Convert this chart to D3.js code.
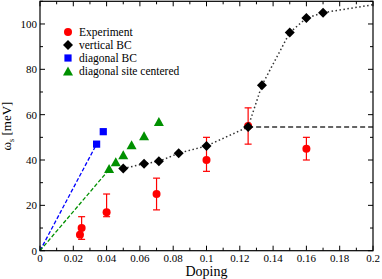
<!DOCTYPE html>
<html lang="en">
<head>
<meta charset="UTF-8">
<title>omega_s vs doping</title>
<script src="https://cdn.jsdelivr.net/npm/d3@7"></script>
<style>
    body { margin: 0; background: #fff; }
    svg { display: block; }
    svg text { font-family: "Liberation Serif", "Times New Roman", serif; }
</style>
</head>
<body>
<svg id="chart" width="382" height="279"></svg>
<script>
    // data
    const expX   = [0.024, 0.025, 0.04, 0.07, 0.1, 0.125, 0.16];
    const expY   = [7, 10, 17, 25, 40, 55, 45];
    const expLo  = [null, 5, 15, 18, 35, 47, 40];
    const expHi  = [null, 15, 25, 32, 50, 63, 50];

    const vertX  = [0.05, 0.0625, 0.0714, 0.0833, 0.1, 0.125, 0.1333, 0.15, 0.16, 0.17];
    const vertY  = [36.2, 38.4, 39.4, 43, 46.2, 54.6, 73, 96.2, 102.6, 105];
    const vertTailX = 0.2, vertTailY = 108.5;

    const diagX  = [0.034, 0.038];
    const diagY  = [47, 52.5];

    const siteX  = [0.0415, 0.0455, 0.05, 0.055, 0.0625, 0.0714];
    const siteY  = [35.8, 38.8, 41.9, 46.3, 50.3, 56.5];

    const plateauY = 54.6;

    const legendNames = ["Experiment", "vertical BC", "diagonal BC", "diagonal site centered"];

    const svg = d3.select("#chart");
    const mLeft = 40, mRight = 373, mTop = 1.3, mBottom = 250.7;

    const x = d3.scaleLinear().domain([0, 0.2]).range([mLeft, mRight]);
    const y = d3.scaleLinear().domain([0, 110]).range([mBottom, mTop]);

    const red = "#ff0000", blue = "#0000ff", green = "#009000";

    // ticks, inward on all four sides
    const ticks = svg.append("g").attr("stroke", "black").attr("stroke-width", 1);
    d3.range(0, 0.2001, 0.01).forEach((v, i) => {
        const len = i % 2 ? 3 : 5;
        ticks.append("line").attr("x1", x(v)).attr("x2", x(v)).attr("y1", mBottom).attr("y2", mBottom - len);
        ticks.append("line").attr("x1", x(v)).attr("x2", x(v)).attr("y1", mTop).attr("y2", mTop + len);
    });
    d3.range(0, 110.01, 10).forEach((v, i) => {
        const len = i % 2 ? 3 : 5;
        ticks.append("line").attr("y1", y(v)).attr("y2", y(v)).attr("x1", mLeft).attr("x2", mLeft + len);
        ticks.append("line").attr("y1", y(v)).attr("y2", y(v)).attr("x1", mRight).attr("x2", mRight - len);
    });

    const xt = svg.append("g").attr("font-size", 11).attr("text-anchor", "middle");
    d3.range(0, 0.2001, 0.02).forEach(v => {
        xt.append("text").attr("x", x(v)).attr("y", mBottom + 11)
            .text(v === 0 ? "0" : d3.format("~g")(+v.toFixed(2)));
    });
    const yt = svg.append("g").attr("font-size", 11).attr("text-anchor", "end");
    d3.range(0, 100.01, 20).forEach(v => {
        yt.append("text").attr("x", mLeft - 3).attr("y", y(v) + 4).text(v);
    });

    svg.append("text").attr("x", (mLeft + mRight) / 2).attr("y", 276)
        .attr("text-anchor", "middle").attr("font-size", 14).text("Doping");
    const yl = svg.append("text").attr("transform", `translate(11,${(mTop + mBottom) / 2}) rotate(-90)`)
        .attr("text-anchor", "middle").attr("font-size", 13);
    yl.append("tspan").text("ω");
    yl.append("tspan").attr("font-size", 8).attr("dy", 3).text("s");
    yl.append("tspan").attr("dy", -3).text(" [meV]");

    // lines
    const line = d3.line().x(d => x(d[0])).y(d => y(d[1]));
    svg.append("path").attr("d", line([[0, 0], [diagX[0], diagY[0]]]))
        .attr("fill", "none").attr("stroke", blue).attr("stroke-width", 1.3).attr("stroke-dasharray", "4,2");
    svg.append("path").attr("d", line([[0, 0], [siteX[0], siteY[0]]]))
        .attr("fill", "none").attr("stroke", green).attr("stroke-width", 1.3).attr("stroke-dasharray", "4,2");
    const vpts = vertX.map((v, i) => [v, vertY[i]]).concat([[vertTailX, vertTailY]]);
    svg.append("path").attr("d", line(vpts))
        .attr("fill", "none").attr("stroke", "#333").attr("stroke-width", 1.5).attr("stroke-dasharray", "1.5,2.5");
    svg.append("path").attr("d", line([[0.125, plateauY], [0.2, plateauY]]))
        .attr("fill", "none").attr("stroke", "#333").attr("stroke-width", 1.5).attr("stroke-dasharray", "5,3");

    // error bars + experiment
    const eb = svg.append("g").attr("stroke", red).attr("stroke-width", 1.2);
    expX.forEach((v, i) => {
        if (expLo[i] === null) return;
        const cx = x(v);
        eb.append("line").attr("x1", cx).attr("x2", cx).attr("y1", y(expLo[i])).attr("y2", y(expHi[i]));
        [expLo[i], expHi[i]].forEach(e =>
            eb.append("line").attr("x1", cx - 3.5).attr("x2", cx + 3.5).attr("y1", y(e)).attr("y2", y(e)));
    });
    svg.append("g").selectAll("circle").data(expX).join("circle")
        .attr("cx", d => x(d)).attr("cy", (d, i) => y(expY[i])).attr("r", 4).attr("fill", red);

    const sym = {
        diamond: (cx, cy) => `M${cx},${cy - 5}L${cx + 5},${cy}L${cx},${cy + 5}L${cx - 5},${cy}Z`,
        square: (cx, cy) => `M${cx - 3.6},${cy - 3.6}h7.2v7.2h-7.2Z`,
        triangle: (cx, cy) => `M${cx},${cy - 5.5}L${cx + 5},${cy + 3.5}L${cx - 5},${cy + 3.5}Z`
    };

    svg.append("g").selectAll("path").data(siteX).join("path")
        .attr("d", (d, i) => sym.triangle(x(d), y(siteY[i]))).attr("fill", green);
    svg.append("g").selectAll("path").data(diagX).join("path")
        .attr("d", (d, i) => sym.square(x(d), y(diagY[i]))).attr("fill", blue);
    svg.append("g").selectAll("path").data(vertX).join("path")
        .attr("d", (d, i) => sym.diamond(x(d), y(vertY[i]))).attr("fill", "black");

    // legend
    const lg = svg.append("g").attr("font-size", 11.5);
    const rowsY = [32, 45, 58, 71];
    lg.append("circle").attr("cx", 68).attr("cy", rowsY[0]).attr("r", 4).attr("fill", red);
    lg.append("path").attr("d", sym.diamond(68, rowsY[1])).attr("fill", "black");
    lg.append("path").attr("d", sym.square(68, rowsY[2])).attr("fill", blue);
    lg.append("path").attr("d", sym.triangle(68, rowsY[3] + 1)).attr("fill", green);
    legendNames.forEach((n, i) => lg.append("text").attr("x", 79).attr("y", rowsY[i] + 4).text(n));

    // frame
    svg.append("rect").attr("x", mLeft).attr("y", mTop).attr("width", mRight - mLeft).attr("height", mBottom - mTop)
        .attr("fill", "none").attr("stroke", "black").attr("stroke-width", 1.2);
</script>
</body>
</html>
